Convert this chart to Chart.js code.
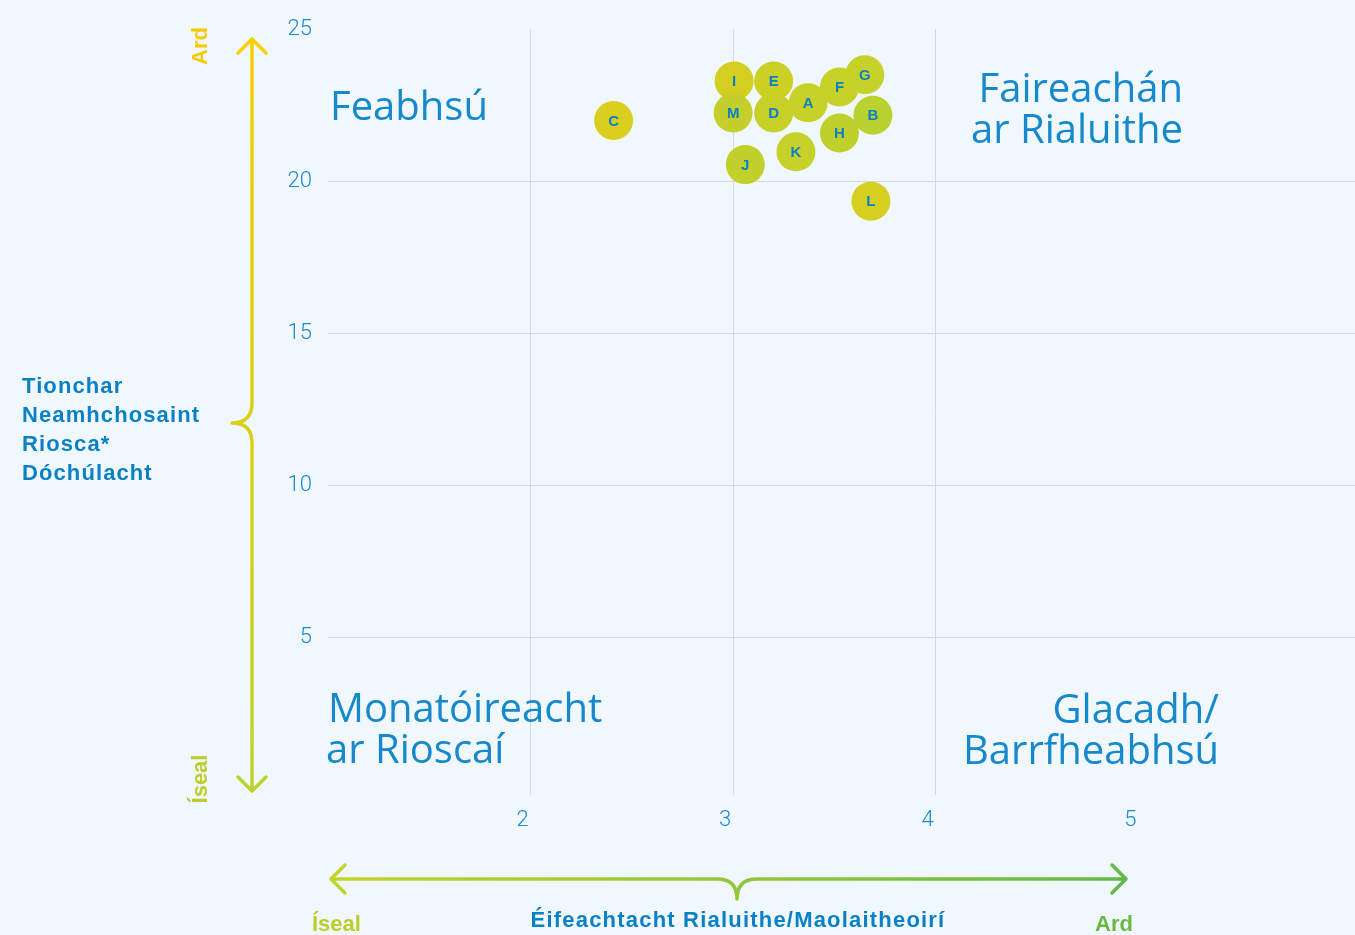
<!DOCTYPE html>
<html>
<head>
<meta charset="utf-8">
<script src="https://cdn.jsdelivr.net/npm/chart.js@4"></script>
<style>
  html, body { margin: 0; padding: 0; background: #f0f8fd; overflow: hidden; }
  #wrap { width: 1355px; height: 935px; position: relative; }
</style>
</head>
<body>
<div id="wrap"><canvas id="risk" width="1355" height="935"></canvas></div>
<script>
const codes = ['A','B','C','D','E','F','G','H','I','J','K','L','M'];
const effectiveness = [3.37, 3.69, 2.41, 3.20, 3.20, 3.525, 3.65, 3.525, 3.005, 3.06, 3.31, 3.68, 3.0];
const riskScore = [22.58, 22.17, 22.0, 22.25, 23.3, 23.1, 23.5, 21.59, 23.3, 20.55, 20.97, 19.35, 22.25];
const dotColours = ['#c8d127','#bad130','#dacf1e','#c6d028','#cdd024','#c8d127','#c6d12a','#bfd02d','#d2cf20','#c2d02b','#c6d12a','#d6cf20','#c3d02b'];
const xTicks = [2, 3, 4, 5];
const yTicks = [5, 10, 15, 20, 25];
const quadrants = {
  topLeft: ['Feabhsú'],
  topRight: ['Faireachán', 'ar Rialuithe'],
  bottomLeft: ['Monatóireacht', 'ar Rioscaí'],
  bottomRight: ['Glacadh/', 'Barrfheabhsú']
};
const yTitle = ['Tionchar', 'Neamhchosaint', 'Riosca*', 'Dóchúlacht'];
const xTitle = 'Éifeachtacht Rialuithe/Maolaitheoirí';
const lowLabel = 'Íseal';
const highLabel = 'Ard';

const blue = '#0a80c6';
const quadBlue = '#1688cc';

// letters on the dots
const dotLabels = {
  id: 'dotLabels',
  afterDatasetsDraw(chart) {
    const ctx = chart.ctx;
    const meta = chart.getDatasetMeta(0);
    ctx.save();
    ctx.fillStyle = blue;
    ctx.font = 'bold 15px "Liberation Sans", Arial, sans-serif';
    ctx.textAlign = 'center';
    ctx.textBaseline = 'middle';
    meta.data.forEach((pt, i) => {
      ctx.fillText(codes[i], pt.x, pt.y + 1);
    });
    ctx.restore();
  }
};

// quadrant names, axis arrows and axis titles
const decor = {
  id: 'decor',
  beforeDatasetsDraw(chart) {
    const ctx = chart.ctx;
    const a = chart.chartArea;
    ctx.save();
    ctx.fillStyle = quadBlue;
    ctx.font = '40px "Open Sans", sans-serif';
    ctx.textBaseline = 'alphabetic';
    ctx.textAlign = 'left';
    ctx.fillText(quadrants.topLeft[0], a.left + 2, 120);
    ctx.fillText(quadrants.bottomLeft[0], a.left, 722);
    ctx.fillText(quadrants.bottomLeft[1], a.left - 2, 763);
    ctx.textAlign = 'right';
    ctx.fillText(quadrants.topRight[0], 1183, 102);
    ctx.fillText(quadrants.topRight[1], 1183, 143);
    ctx.fillText(quadrants.bottomRight[0], 1219, 723);
    ctx.fillText(quadrants.bottomRight[1], 1219, 764);
    ctx.restore();
  },
  afterDraw(chart) {
    const ctx = chart.ctx;
    const a = chart.chartArea;
    ctx.save();
    ctx.lineWidth = 3.5;
    ctx.lineCap = 'round';
    ctx.lineJoin = 'round';

    // vertical arrow with brace
    const vx = a.left - 76, vTop = 39, vBot = 791, vMid = 423;
    let g = ctx.createLinearGradient(0, vTop, 0, vBot);
    g.addColorStop(0, '#f7d000');
    g.addColorStop(1, '#bdd22c');
    ctx.strokeStyle = g;
    ctx.beginPath();
    ctx.moveTo(vx, vTop);
    ctx.lineTo(vx, vMid - 20);
    ctx.quadraticCurveTo(vx, vMid, vx - 20, vMid);
    ctx.quadraticCurveTo(vx, vMid, vx, vMid + 20);
    ctx.lineTo(vx, vBot);
    ctx.moveTo(vx - 14, vTop + 14);
    ctx.lineTo(vx, vTop);
    ctx.lineTo(vx + 14, vTop + 14);
    ctx.moveTo(vx - 14, vBot - 14);
    ctx.lineTo(vx, vBot);
    ctx.lineTo(vx + 14, vBot - 14);
    ctx.stroke();

    // horizontal arrow with brace
    const hy = 879, hL = 331, hR = 1126, hMid = 737;
    g = ctx.createLinearGradient(hL, 0, hR, 0);
    g.addColorStop(0, '#c2d42c');
    g.addColorStop(1, '#66b847');
    ctx.strokeStyle = g;
    ctx.beginPath();
    ctx.moveTo(hL, hy);
    ctx.lineTo(hMid - 20, hy);
    ctx.quadraticCurveTo(hMid, hy, hMid, hy + 20);
    ctx.quadraticCurveTo(hMid, hy, hMid + 20, hy);
    ctx.lineTo(hR, hy);
    ctx.moveTo(hL + 14, hy - 14);
    ctx.lineTo(hL, hy);
    ctx.lineTo(hL + 14, hy + 14);
    ctx.moveTo(hR - 14, hy - 14);
    ctx.lineTo(hR, hy);
    ctx.lineTo(hR - 14, hy + 14);
    ctx.stroke();

    // y title
    ctx.fillStyle = blue;
    ctx.font = 'bold 22px "Liberation Sans", Arial, sans-serif';
    ctx.letterSpacing = '1.1px';
    ctx.textAlign = 'left';
    ctx.textBaseline = 'middle';
    yTitle.forEach((t, i) => ctx.fillText(t, 22, 387 + i * 29));

    // x title
    ctx.textAlign = 'center';
    ctx.font = 'bold 22px "Liberation Sans", Arial, sans-serif';
    ctx.letterSpacing = '1.2px';
    ctx.fillText(xTitle, hMid + 1, 921);
    ctx.letterSpacing = '0px';

    // low / high labels
    ctx.font = 'bold 22px "Liberation Sans", Arial, sans-serif';
    ctx.fillStyle = '#bccd2c';
    ctx.textAlign = 'left';
    ctx.fillText(lowLabel, 312, 925);
    ctx.fillStyle = '#68b845';
    ctx.textAlign = 'right';
    ctx.fillText(highLabel, 1133, 925);

    ctx.save();
    ctx.translate(201, 46);
    ctx.rotate(-Math.PI / 2);
    ctx.textAlign = 'center';
    ctx.fillStyle = '#f5cc00';
    ctx.fillText(highLabel, 0, 0);
    ctx.restore();
    ctx.save();
    ctx.translate(201, 779);
    ctx.rotate(-Math.PI / 2);
    ctx.textAlign = 'center';
    ctx.fillStyle = '#bccd2c';
    ctx.fillText(lowLabel, 0, 0);
    ctx.restore();

    ctx.restore();
  }
};

new Chart(document.getElementById('risk'), {
  type: 'scatter',
  data: {
    datasets: [{
      label: 'Rioscaí',
      data: codes.map((c, i) => ({ x: effectiveness[i], y: riskScore[i] })),
      backgroundColor: dotColours,
      borderWidth: 0,
      pointRadius: 19.5,
      pointHoverRadius: 19.5
    }]
  },
  options: {
    responsive: false,
    animation: false,
    layout: { autoPadding: false, padding: { top: 27, right: 0, bottom: 0, left: 0 } },
    plugins: {
      legend: { display: false },
      tooltip: { enabled: false }
    },
    scales: {
      x: {
        min: 1,
        max: 6.07,
        afterBuildTicks: s => { s.ticks = xTicks.map(v => ({ value: v })); },
        afterFit: s => { s.height = 145; s.paddingRight = 0; s.paddingLeft = 0; },
        border: { display: false },
        grid: {
          color: c => (c.tick && c.tick.value === 5 ? 'rgba(0,0,0,0)' : '#d3dadd'),
          lineWidth: 1,
          tickLength: 5
        },
        ticks: {
          color: '#1a8ad0',
          font: { family: 'Roboto', size: 22, weight: '300' },
          padding: 12,
          labelOffset: -8
        }
      },
      y: {
        min: 0,
        max: 25,
        afterBuildTicks: s => { s.ticks = yTicks.map(v => ({ value: v })); },
        afterFit: s => { s.width = 328; },
        border: { display: false },
        grid: {
          color: c => (c.tick && c.tick.value === 25 ? 'rgba(0,0,0,0)' : '#d3dadd'),
          lineWidth: 1,
          drawTicks: false
        },
        ticks: {
          color: '#1a8ad0',
          font: { family: 'Roboto', size: 22, weight: '300' },
          padding: 16
        }
      }
    }
  },
  plugins: [decor, dotLabels]
});
</script>
</body>
</html>
